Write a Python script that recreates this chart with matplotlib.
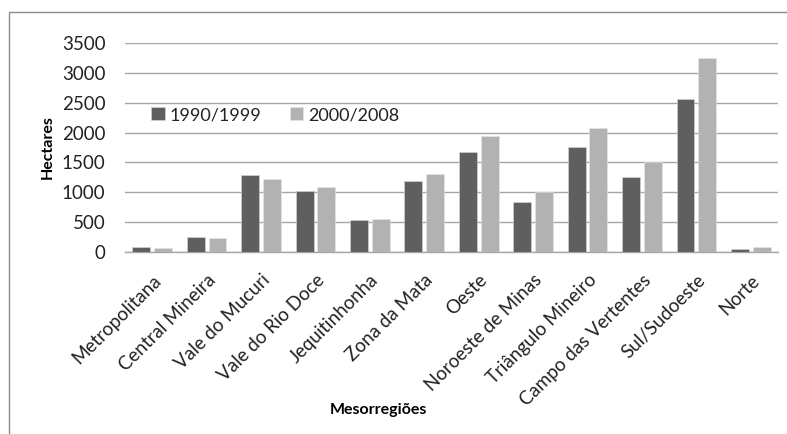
import numpy as np
import matplotlib
matplotlib.use("Agg")
import matplotlib.pyplot as plt
from matplotlib.patches import Rectangle

regioes = ["Metropolitana", "Central Mineira", "Vale do Mucuri", "Vale do Rio Doce",
           "Jequitinhonha", "Zona da Mata", "Oeste", "Noroeste de Minas",
           "Triângulo Mineiro", "Campo das Vertentes", "Sul/Sudoeste", "Norte"]
area_1990_1999 = [84, 251, 1284, 1022, 530, 1189, 1680, 843, 1764, 1256, 2562, 50]
area_2000_2008 = [67, 234, 1217, 1089, 558, 1306, 1943, 1000, 2077, 1513, 3254, 84]
series = ["1990/1999", "2000/2008"]
yticks = [0, 500, 1000, 1500, 2000, 2500, 3000, 3500]

plt.rcParams["font.family"] = ["Lato", "DejaVu Sans"]

W, H = 787, 434
fig = plt.figure(figsize=(W / 100, H / 100), dpi=100)

# outer chart frame (only left and top edges visible)
fig.patches.append(Rectangle((9 / W, -0.1), 1.2, 1 - 12 / H + 0.1,
                             transform=fig.transFigure, fill=False,
                             edgecolor="#8c8c8c", linewidth=1.0))

ax = fig.add_axes([125 / W, 1 - 252 / H, 653 / W, 209 / H])

x = np.arange(len(regioes))
w = 0.33
ax.bar(x - 0.2, area_1990_1999, w, color="#5f5f5f", edgecolor="#d8d8d8",
       linewidth=0.4, label=series[0], zorder=3)
ax.bar(x + 0.2, area_2000_2008, w, color="#b2b2b2", edgecolor="#e6e6e6",
       linewidth=0.4, label=series[1], zorder=3)

ax.set_xlim(-0.5, len(regioes) - 0.5)
ax.set_ylim(0, 3500)
ax.set_yticks(yticks)
ax.set_yticklabels([str(v) for v in yticks], fontsize=13.5, color="#222222")
ax.set_xticks(x)
ax.set_xticklabels(regioes, rotation=45, ha="right", rotation_mode="anchor",
                   fontsize=13.5, color="#222222")
ax.tick_params(axis="both", length=0)
ax.tick_params(axis="y", pad=14)
ax.tick_params(axis="x", pad=14)

ax.grid(axis="y", color="#a6a6a6", linewidth=1.0, zorder=0)
for s in ["top", "right", "left"]:
    ax.spines[s].set_visible(False)
ax.spines["bottom"].set_color("#a6a6a6")
ax.spines["bottom"].set_linewidth(1.0)

fig.text(48 / W, 1 - 147 / H, "Hectares", fontsize=11.5, fontweight="bold",
         rotation=90, ha="center", va="center")
fig.text(378 / W, 1 - 410 / H, "Mesorregiões", fontsize=11.5, fontweight="bold",
         ha="center", va="center")

leg = ax.legend(loc="center left", bbox_to_anchor=(0.04, 0.655), ncol=2,
                frameon=False, fontsize=13, handlelength=0.75, handleheight=0.75,
                handletextpad=0.25, columnspacing=1.6, borderpad=0, borderaxespad=0)
for t in leg.get_texts():
    t.set_color("#222222")

fig.savefig("out.png", dpi=100)
